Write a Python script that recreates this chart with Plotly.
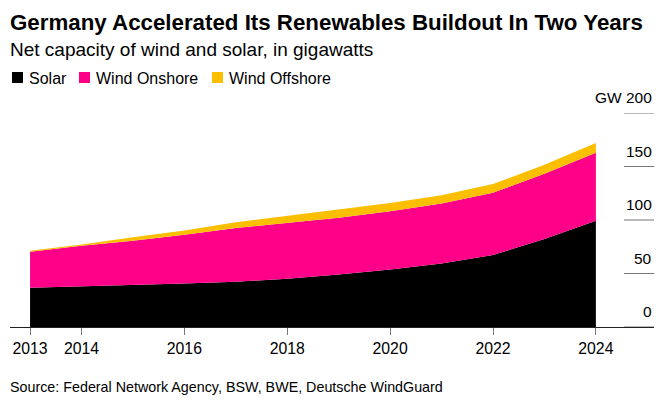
import plotly.graph_objects as go

# ---- data ----
years = [2013, 2014, 2015, 2016, 2017, 2018, 2019, 2020, 2021, 2022, 2023, 2024]
solar = [36.7, 37.9, 39.2, 40.7, 42.3, 45.2, 49.0, 53.7, 59.4, 67.4, 82.2, 99.3]
wind_onshore = [33.7, 38.1, 41.3, 45.4, 50.2, 52.3, 53.2, 54.4, 56.0, 58.1, 61.0, 63.5]
wind_offshore = [0.9, 1.0, 3.3, 4.1, 5.4, 6.4, 7.5, 7.8, 7.8, 8.1, 8.5, 9.2]
series_names = ["Solar", "Wind Onshore", "Wind Offshore"]
x_tick_vals = [2013, 2014, 2016, 2018, 2020, 2022, 2024]
y_tick_vals = [0, 50, 100, 150, 200]
y_tick_text = ["0", "50", "100", "150", "GW 200"]

colors = ["#000000", "#ff0089", "#fbbf00"]
FONT = "Liberation Sans, Arial, sans-serif"

W, H = 672, 404
ML, MR, MT, MB = 10, 18, 113, 77
PW, PH = W - ML - MR, H - MT - MB


def px(x):
    return (x - ML) / PW


def py(y):
    return 1 - (y - MT) / PH


fig = go.Figure()
for name, vals, col in zip(series_names, [solar, wind_onshore, wind_offshore], colors):
    fig.add_trace(go.Scatter(
        x=years, y=vals, name=name, mode="lines", stackgroup="one",
        line=dict(width=0, color=col), fillcolor=col, showlegend=False,
        hovertemplate="%{x}: %{y} GW<extra>" + name + "</extra>",
    ))

annotations = []
shapes = []

# title / subtitle / source
annotations.append(dict(text="<b>Germany Accelerated Its Renewables Buildout In Two Years</b>",
                        x=px(8), y=py(22), xref="paper", yref="paper", xanchor="left", yanchor="middle",
                        showarrow=False, font=dict(size=22.3, color="#000", family=FONT)))
annotations.append(dict(text="Net capacity of wind and solar, in gigawatts",
                        x=px(8), y=py(49), xref="paper", yref="paper", xanchor="left", yanchor="middle",
                        showarrow=False, font=dict(size=19, color="#000", family=FONT)))
annotations.append(dict(text="Source: Federal Network Agency, BSW, BWE, Deutsche WindGuard",
                        x=px(8), y=py(387), xref="paper", yref="paper", xanchor="left", yanchor="middle",
                        showarrow=False, font=dict(size=14.3, color="#000", family=FONT)))

# legend (squares + labels)
leg_x = [12, 79, 212]
for name, col, lx in zip(series_names, colors, leg_x):
    shapes.append(dict(type="rect", xref="paper", yref="paper",
                       x0=px(lx), x1=px(lx + 11), y0=py(83), y1=py(72),
                       fillcolor=col, line=dict(width=0)))
    annotations.append(dict(text=name, x=px(lx + 15), y=py(78), xref="paper", yref="paper",
                            xanchor="left", yanchor="middle", showarrow=False,
                            font=dict(size=16, color="#000", family=FONT)))

# right-side short gridlines and labels
for v, t in zip(y_tick_vals, y_tick_text):
    shapes.append(dict(type="line", xref="paper", yref="y", x0=px(624), x1=1, y0=v, y1=v,
                       line=dict(color="#777777", width=1)))
    annotations.append(dict(text=t, x=1, y=v, xref="paper", yref="y", xanchor="right",
                            yanchor="bottom", yshift=5, showarrow=False,
                            font=dict(size=15.5, color="#000", family=FONT)))

fig.update_layout(
    width=W, height=H,
    margin=dict(l=ML, r=MR, t=MT, b=MB, pad=0),
    paper_bgcolor="white", plot_bgcolor="white",
    showlegend=False,
    font=dict(family=FONT, color="#000"),
    xaxis=dict(range=[2012.61, 2025.13], tickvals=x_tick_vals, ticktext=[str(v) for v in x_tick_vals],
               showgrid=False, zeroline=False, showline=True, linecolor="#222", linewidth=1.3,
               ticks="outside", ticklen=7, tickcolor="#777", tickwidth=1,
               tickfont=dict(size=15.8, color="#000", family=FONT), fixedrange=True),
    yaxis=dict(range=[0, 200], showgrid=False, zeroline=False, showline=False,
               showticklabels=False, ticks="", fixedrange=True),
    annotations=annotations, shapes=shapes,
)

fig.write_html("out.html", config={"displayModeBar": False},
               post_script="document.body.style.margin='0';")
